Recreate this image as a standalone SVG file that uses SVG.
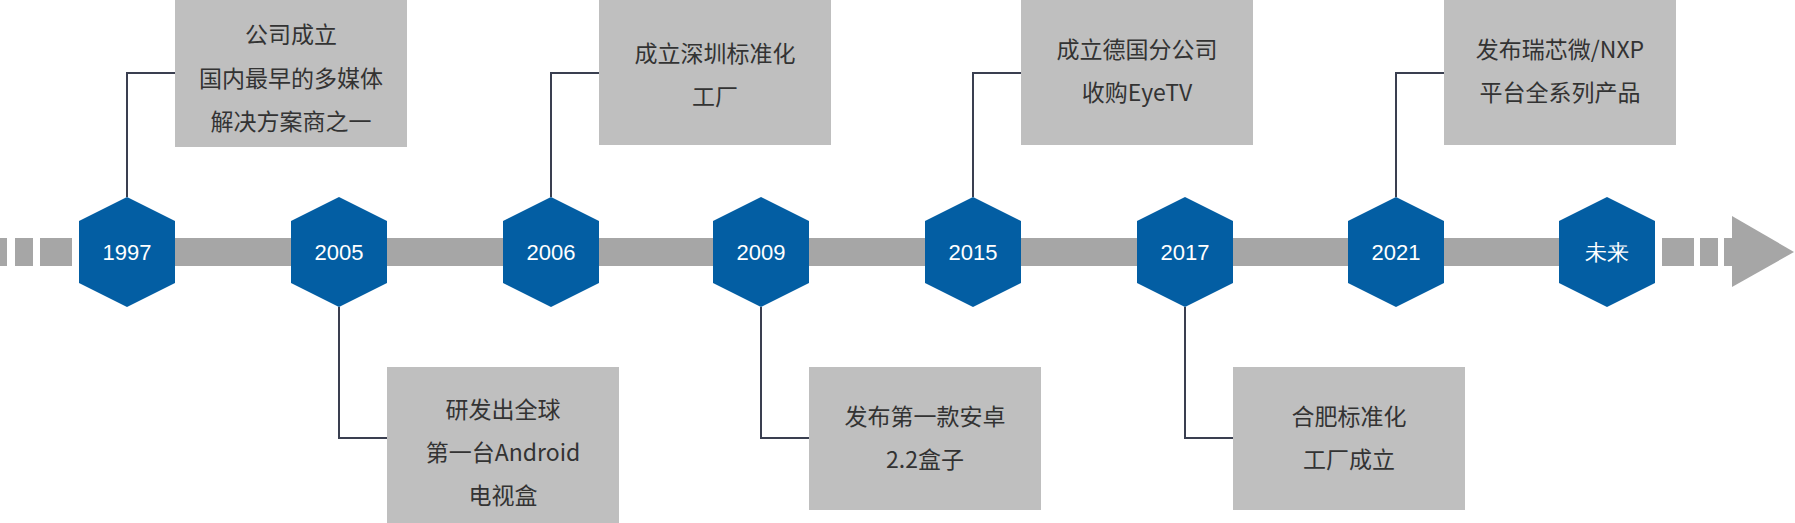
<svg xmlns="http://www.w3.org/2000/svg" width="1795" height="523" viewBox="0 0 1795 523">
<style>
.bar{fill:#a6a6a6}
.hex{fill:#035ea3}
.yr{fill:#fff;font-family:"Liberation Sans",Arial,sans-serif;font-size:22px;text-anchor:middle}
.box{fill:#bfbfbf}
.t{fill:#333;font-family:"Noto Sans CJK SC","Noto Sans",sans-serif;font-size:23px;text-anchor:middle}
.c{fill:none;stroke:#3a3f50;stroke-width:2}
</style>
<defs>
<polygon id="hx" points="0,-55 48,-31 48,31 0,55 -48,31 -48,-31"/>
</defs>
<g id="axis">
<rect class="bar" x="0" y="238" width="7" height="28"/>
<rect class="bar" x="15" y="238" width="18" height="28"/>
<rect class="bar" x="40" y="238" width="32" height="28"/>
<rect class="bar" x="79" y="238" width="1576" height="28"/>
<rect class="bar" x="1662" y="238" width="32" height="28"/>
<rect class="bar" x="1700" y="238" width="18" height="28"/>
<rect class="bar" x="1724" y="238" width="10" height="28"/>
<polygon class="bar" points="1732,216 1794,252 1732,287"/>
</g>
<g id="connectors">
<polyline class="c" points="127,197 127,73 175,73"/>
<polyline class="c" points="551,197 551,73 599,73"/>
<polyline class="c" points="973,197 973,73 1021,73"/>
<polyline class="c" points="1396,197 1396,73 1444,73"/>
<polyline class="c" points="339,307 339,438 387,438"/>
<polyline class="c" points="761,307 761,438 809,438"/>
<polyline class="c" points="1185,307 1185,438 1233,438"/>
</g>
<g id="n1997"><use href="#hx" class="hex" x="127" y="252"/><text class="yr" x="127" y="260">1997</text></g>
<g id="n2005"><use href="#hx" class="hex" x="339" y="252"/><text class="yr" x="339" y="260">2005</text></g>
<g id="n2006"><use href="#hx" class="hex" x="551" y="252"/><text class="yr" x="551" y="260">2006</text></g>
<g id="n2009"><use href="#hx" class="hex" x="761" y="252"/><text class="yr" x="761" y="260">2009</text></g>
<g id="n2015"><use href="#hx" class="hex" x="973" y="252"/><text class="yr" x="973" y="260">2015</text></g>
<g id="n2017"><use href="#hx" class="hex" x="1185" y="252"/><text class="yr" x="1185" y="260">2017</text></g>
<g id="n2021"><use href="#hx" class="hex" x="1396" y="252"/><text class="yr" x="1396" y="260">2021</text></g>
<g id="nfuture"><use href="#hx" class="hex" x="1607" y="252"/><text class="yr" x="1607" y="260">未来</text></g>
<g id="b1997"><rect class="box" x="175" y="0" width="232" height="147"/>
<text class="t" x="291" y="43">公司成立</text><text class="t" x="291" y="87">国内最早的多媒体</text><text class="t" x="291" y="130">解决方案商之一</text></g>
<g id="b2006"><rect class="box" x="599" y="0" width="232" height="145"/>
<text class="t" x="715" y="62">成立深圳标准化</text><text class="t" x="715" y="105">工厂</text></g>
<g id="b2015"><rect class="box" x="1021" y="0" width="232" height="145"/>
<text class="t" x="1137" y="58">成立德国分公司</text><text class="t" x="1137" y="101">收购EyeTV</text></g>
<g id="b2021"><rect class="box" x="1444" y="0" width="232" height="145"/>
<text class="t" x="1560" y="58">发布瑞芯微/NXP</text><text class="t" x="1560" y="101">平台全系列产品</text></g>
<g id="b2005"><rect class="box" x="387" y="367" width="232" height="156"/>
<text class="t" x="503" y="418">研发出全球</text><text class="t" x="503" y="461">第一台Android</text><text class="t" x="503" y="504">电视盒</text></g>
<g id="b2009"><rect class="box" x="809" y="367" width="232" height="143"/>
<text class="t" x="925" y="425">发布第一款安卓</text><text class="t" x="925" y="468">2.2盒子</text></g>
<g id="b2017"><rect class="box" x="1233" y="367" width="232" height="143"/>
<text class="t" x="1349" y="425">合肥标准化</text><text class="t" x="1349" y="468">工厂成立</text></g>
</svg>
